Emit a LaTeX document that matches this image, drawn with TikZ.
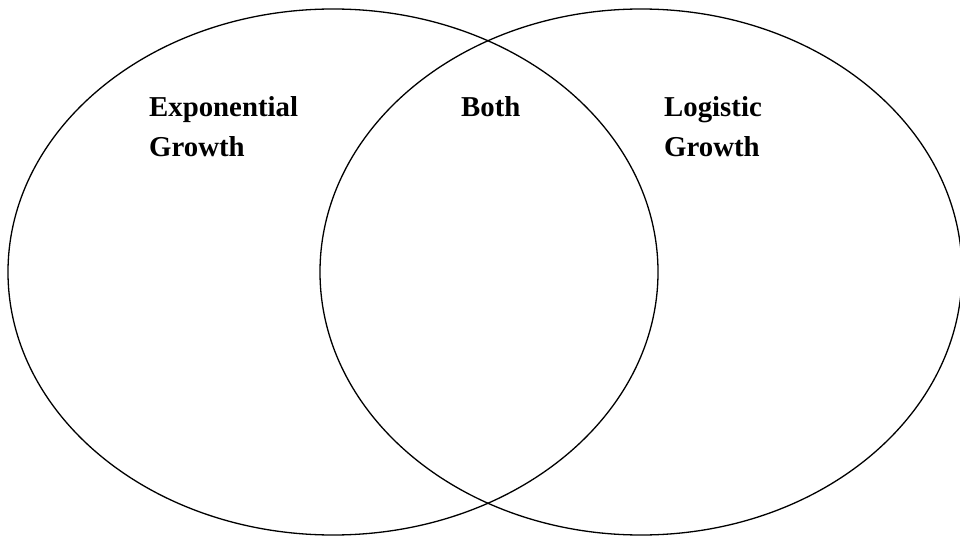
\documentclass[tikz,border=0pt]{standalone}
\usepackage{fontspec}
\setmainfont{Liberation Serif}
\usepackage{tikz}

\tikzset{
	venn/.style = {line width = 1.3pt},
	setlabel/.style = {font = \bfseries\fontsize{28.8}{40}\selectfont, align = left, inner sep = 0pt, anchor = base west}
}

\begin{document}
\begin{tikzpicture}[x = 1pt, y = -1pt]
		\useasboundingbox (0,0) rectangle (960,537);
		
		\begin{scope}[venn]
			\draw (333,272) ellipse [x radius = 325, y radius = 263];
			\draw (641,272) ellipse [x radius = 321, y radius = 263];
		\end{scope}
		
		% base anchor sits on the last line
		\node [setlabel] (expo) at (149,157) {Exponential\\Growth};
		\node [setlabel] (both) at (461,117) {Both};
		\node [setlabel] (logi) at (664,157) {Logistic\\Growth};
	\end{tikzpicture}
\end{document}
